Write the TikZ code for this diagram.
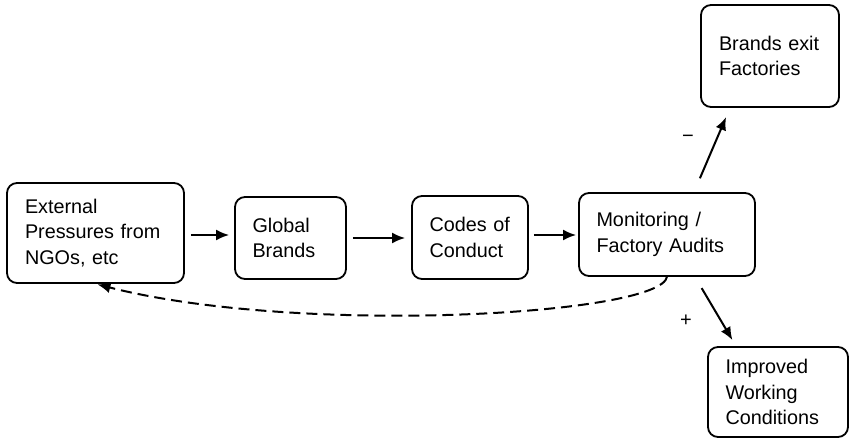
\documentclass[tikz,border=0pt]{standalone}
\usepackage{fontspec}
\setmainfont{Liberation Sans}
\usetikzlibrary{arrows.meta}
\begin{document}
\begin{tikzpicture}[x=1pt,y=-1pt,
  box/.style={draw, line width=1.8pt, rounded corners=10pt, align=left,
    inner xsep=17pt, inner ysep=0pt, anchor=center,
    font=\fontsize{19.8}{25.5}\selectfont},
  arr/.style={line width=2pt, -{Latex[length=13pt,width=11pt]}},
  sign/.style={font=\fontsize{20}{22}\selectfont, inner sep=0pt}]
\useasboundingbox (0,0) rectangle (849,441);
\node[box, minimum width=177pt, minimum height=100pt, text width=141pt] (ext) at (95.5,233) {External\\Pressures from\\NGOs, etc};
\node[box, minimum width=111pt, minimum height=82pt, text width=76pt] (glob) at (290.5,238) {Global\\Brands};
\node[box, minimum width=116pt, minimum height=83pt, text width=81pt] (codes) at (470,237.5) {Codes of\\Conduct};
\node[box, minimum width=176pt, minimum height=83pt, text width=141pt] (mon) at (667,234.5) {Monitoring /\\Factory Audits};
\node[box, minimum width=138pt, minimum height=102pt, text width=102pt] (exit) at (770,56) {Brands exit\\Factories};
\node[box, minimum width=140pt, minimum height=90pt, text width=105pt] (impr) at (778,392) {Improved\\Working\\Conditions};
\draw[arr, shorten <=6pt, shorten >=5pt] (ext.east |- 0,235) -- (glob.west |- 0,235);
\draw[arr, shorten <=6pt, shorten >=6pt] (glob.east) -- (codes.west |- glob.east);
\draw[arr, shorten <=5pt, shorten >=2pt] (codes.east |- 0,235) -- (mon.west |- 0,235);
\draw[arr, shorten <=15pt, shorten >=10pt] ([xshift=27pt]mon.north) -- ([xshift=-40pt]exit.south);
\draw[arr, shorten <=13pt, shorten >=7pt] ([xshift=28pt]mon.south) -- ([xshift=-42pt]impr.north);
\draw[line width=2pt, dash pattern=on 11pt off 6pt, -{Latex[length=13pt,width=11pt]}, shorten >=2pt]
  (mon.south) .. controls (660,315) and (300,336) .. (ext.south);
\node[sign] (minus) at (688,139) {−};
\node[sign] (plus) at (686,321) {+};
\end{tikzpicture}
\end{document}
